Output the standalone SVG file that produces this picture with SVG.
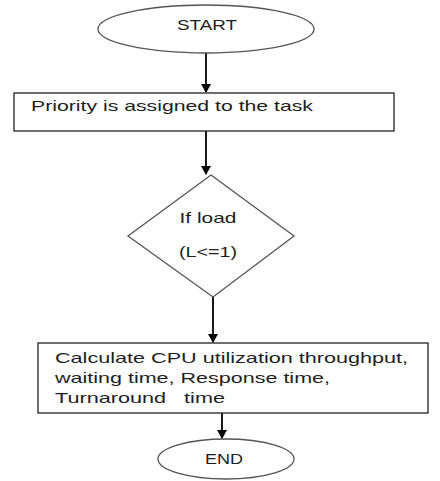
<svg xmlns="http://www.w3.org/2000/svg" width="440" height="481" viewBox="0 0 440 481">
<style>
.shape{fill:#fff;stroke:#555;stroke-width:1.3}
.box{fill:#fff;stroke:#222;stroke-width:1.3}
.t{font-family:"Liberation Sans",Arial,sans-serif;font-size:15px;fill:#1e1e1e}
.c{text-anchor:middle}
.conn{stroke:#000;stroke-width:1.8;fill:none;marker-end:url(#ah)}
</style>
<defs>
<marker id="ah" markerWidth="10" markerHeight="10" refX="8" refY="5" orient="auto" markerUnits="userSpaceOnUse">
<path d="M0,0 L9,5 L0,10 Z" fill="#000"/>
</marker>
</defs>
<rect width="440" height="481" fill="#fff"/>
<g id="connectors">
<line class="conn" x1="206" y1="53" x2="206" y2="92"/>
<line class="conn" x1="206" y1="131" x2="206" y2="174"/>
<line class="conn" x1="213" y1="297" x2="213" y2="342"/>
<line class="conn" x1="222" y1="413" x2="222" y2="438"/>
</g>
<g id="start">
<ellipse class="shape" cx="206" cy="29" rx="108" ry="24"/>
<text class="t c" x="207" y="30" textLength="60" lengthAdjust="spacingAndGlyphs">START</text>
</g>
<g id="assign">
<rect class="box" x="14" y="93" width="380" height="38"/>
<text class="t" x="31" y="111" textLength="282" lengthAdjust="spacingAndGlyphs">Priority is assigned to the task</text>
</g>
<g id="decision">
<polygon class="shape" points="211,175 294,236 213,297 128,236"/>
<text class="t c" x="208" y="223" textLength="57" lengthAdjust="spacingAndGlyphs">If load</text>
<text class="t c" x="208" y="257" textLength="58" lengthAdjust="spacingAndGlyphs">(L&lt;=1)</text>
</g>
<g id="calculate">
<rect class="box" x="38" y="343" width="390" height="70"/>
<text class="t" x="55" y="363" textLength="353" lengthAdjust="spacingAndGlyphs">Calculate CPU utilization  throughput,</text>
<text class="t" x="55" y="383" textLength="275" lengthAdjust="spacingAndGlyphs">waiting time, Response time,</text>
<text class="t" x="55" y="403" textLength="170" lengthAdjust="spacingAndGlyphs" xml:space="preserve">Turnaround   time</text>
</g>
<g id="end">
<ellipse class="shape" cx="226" cy="459" rx="68" ry="20"/>
<text class="t c" x="224" y="464" textLength="38" lengthAdjust="spacingAndGlyphs">END</text>
</g>
</svg>
